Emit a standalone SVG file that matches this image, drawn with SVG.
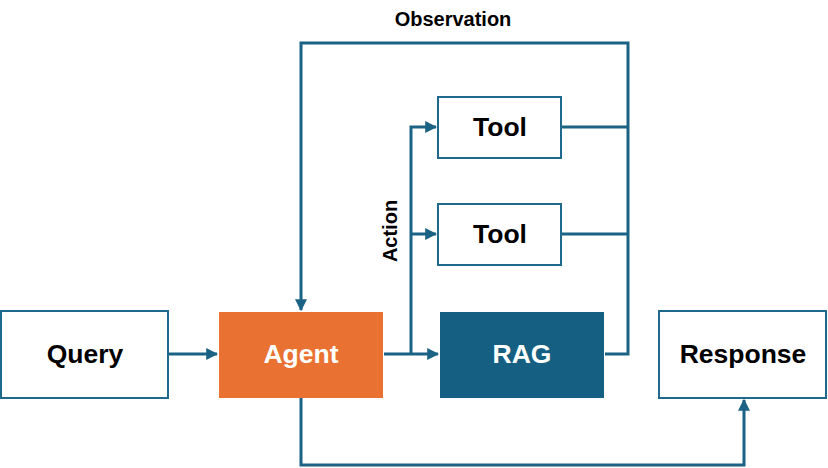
<svg xmlns="http://www.w3.org/2000/svg" width="828" height="468" viewBox="0 0 828 468">
<style>
.box{fill:#ffffff;stroke:#1f6a8c;stroke-width:2}
.lbl{font-family:"Liberation Sans",Arial,sans-serif;font-weight:bold;font-size:26.5px;text-anchor:middle;dominant-baseline:central;fill:#000}
.w{fill:#ffffff}
.small{font-size:20px}
.ln{fill:none;stroke:#1b6385;stroke-width:3}
</style>
<defs>
<marker id="ah" viewBox="0 0 10 10" refX="9" refY="5" markerWidth="4" markerHeight="4" orient="auto" markerUnits="strokeWidth">
<path d="M0,0 L10,5 L0,10 z" fill="#1b6385"/>
</marker>
</defs>
<rect width="828" height="468" fill="#ffffff"/>
<g id="connectors">
<path class="ln" d="M169,354 H217" marker-end="url(#ah)"/>
<path class="ln" d="M384,354 H438" marker-end="url(#ah)"/>
<path class="ln" d="M411,354 V127 H436" marker-end="url(#ah)"/>
<path class="ln" d="M411,234 H436" marker-end="url(#ah)"/>
<path class="ln" d="M561,127 H628"/>
<path class="ln" d="M561,234 H628"/>
<path class="ln" d="M605,354 H628 V43 H301 V310" marker-end="url(#ah)"/>
<path class="ln" d="M301,398 V465 H744 V400" marker-end="url(#ah)"/>
</g>
<g id="query"><rect class="box" x="1" y="311" width="167" height="87"/><text class="lbl" x="85" y="354">Query</text></g>
<g id="agent"><rect x="219" y="312" width="164" height="86" fill="#e97131"/><text class="lbl w" x="301" y="354">Agent</text></g>
<g id="rag"><rect x="440" y="312" width="164" height="86" fill="#156082"/><text class="lbl w" x="522" y="354">RAG</text></g>
<g id="response"><rect class="box" x="659" y="311" width="167" height="87"/><text class="lbl" x="743" y="354">Response</text></g>
<g id="tool1"><rect class="box" x="438" y="97" width="123" height="61"/><text class="lbl" x="500" y="127">Tool</text></g>
<g id="tool2"><rect class="box" x="438" y="204" width="123" height="61"/><text class="lbl" x="500" y="234">Tool</text></g>
<g id="labels">
<text class="lbl small" x="453" y="19">Observation</text>
<text class="lbl small" x="0" y="0" transform="translate(390,231) rotate(-90)">Action</text>
</g>
</svg>
